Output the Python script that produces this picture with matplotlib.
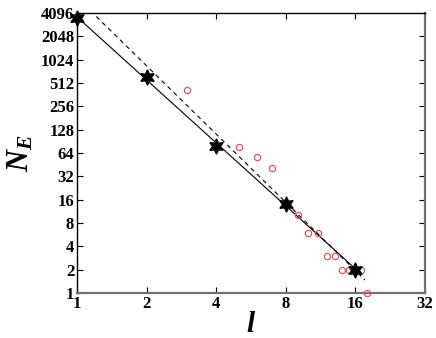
import numpy as np
import matplotlib
matplotlib.use("Agg")
import matplotlib.pyplot as plt
from matplotlib.ticker import FixedLocator, FixedFormatter, NullLocator

# 绘图格式
plt.rcParams.update({
    "font.family": "Liberation Serif",
    "font.weight": "bold",
    "mathtext.fontset": "custom",
    "mathtext.it": "Liberation Serif:italic:bold",
    "mathtext.rm": "Liberation Serif:bold",
    "xtick.direction": "in", "ytick.direction": "in",
})

# 数据
star_l = [1, 2, 4, 8, 16]
star_N = [3540, 612, 79, 14, 2]

circ_l = [3, 5, 6, 7, 9, 10, 11, 12, 13, 14, 15, 16, 17, 18]
circ_N = [416, 76, 57, 41, 10, 6, 6, 3, 3, 2, 2, 2, 2, 1]

fit_l = [1, 16.4]
fit_N = [3640, 1.92]
dash_l = [1, 17.6]
dash_N = [6470, 1.47]

xticks = [1, 2, 4, 8, 16, 32]
yticks = [1, 2, 4, 8, 16, 32, 64, 128, 256, 512, 1024, 2048, 4096]

fig = plt.figure(figsize=(4.36, 3.38), dpi=100)
ax = fig.add_axes([77 / 436, 45 / 338, 348 / 436, 280 / 338])

ax.plot(fit_l, fit_N, color="k", lw=0.8, zorder=2)
ax.plot(dash_l, dash_N, color="k", lw=0.8, ls=(0, (4, 3.5)), zorder=2)
ax.plot(circ_l, circ_N, "o", mfc="none", mec="#ff4040", ms=4.5, mew=0.8,
        zorder=3, clip_on=False)
ax.plot(star_l, star_N, marker=(6, 1, 0), ls="none", color="k", ms=11,
        zorder=4, clip_on=False)

ax.set_xscale("log", base=2)
ax.set_yscale("log", base=2)
ax.set_xlim(1, 32)
ax.set_ylim(1, 4096)

ax.xaxis.set_major_locator(FixedLocator(xticks))
ax.xaxis.set_major_formatter(FixedFormatter([str(v) for v in xticks]))
ax.yaxis.set_major_locator(FixedLocator(yticks))
ax.yaxis.set_major_formatter(FixedFormatter([str(v) for v in yticks]))
ax.xaxis.set_minor_locator(NullLocator())
ax.yaxis.set_minor_locator(NullLocator())
ax.tick_params(which="major", length=4, width=0.8, labelsize=12,
               top=True, right=True, pad=2)
for lab in ax.get_xticklabels() + ax.get_yticklabels():
    lab.set_fontweight("bold")

for side in ["left", "top"]:
    ax.spines[side].set_color("k")
    ax.spines[side].set_linewidth(1.0)
for side in ["bottom", "right"]:
    ax.spines[side].set_color("#707070")
    ax.spines[side].set_linewidth(1.6)

ax.set_xlabel(r"$l$", fontsize=21, labelpad=0)
ax.set_ylabel(r"$N_E$", fontsize=22, labelpad=4)

fig.savefig("out.png", dpi=100)
